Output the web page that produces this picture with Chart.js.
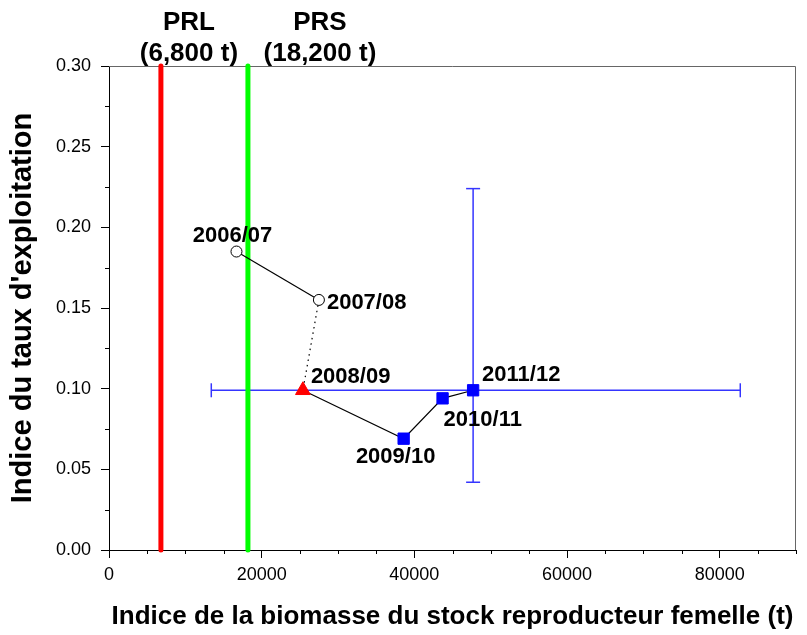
<!DOCTYPE html>
<html>
<head>
<meta charset="utf-8">
<script src="https://cdn.jsdelivr.net/npm/chart.js@4.4.1/dist/chart.umd.min.js"></script>
<style>
  html, body { margin: 0; padding: 0; background: #fff; }
  canvas { display: block; }
</style>
</head>
<body>
<canvas id="chart" width="807" height="635"></canvas>
<script>
// donnees
const saisons = ['2006/07', '2007/08', '2008/09', '2009/10', '2010/11', '2011/12'];
const biomasse = [16700, 27500, 25400, 38600, 43700, 47700];
const exploitation = [0.185, 0.155, 0.099, 0.069, 0.094, 0.099];

// intervalle de confiance de la derniere saison
const biomasseIntervalle = [13400, 82700];
const exploitationIntervalle = [0.042, 0.224];

// points de reference
const pointsRef = ['PRL', 'PRS'];
const pointsRefValeurs = [6800, 18200];
const pointsRefTextes = ['(6,800 t)', '(18,200 t)'];

const xTicks = [0, 20000, 40000, 60000, 80000];
const yTicks = [0, 0.05, 0.10, 0.15, 0.20, 0.25, 0.30];

const POLICE = '"Liberation Sans", Arial, sans-serif';
const bleu = '#3535ff';

// position des etiquettes par rapport au point
const etiquettesPos = [
  { dx: -4, dy: -16, align: 'center' },
  { dx: 8, dy: 3, align: 'left' },
  { dx: 8, dy: -13, align: 'left' },
  { dx: -8, dy: 18, align: 'center' },
  { dx: 1, dy: 22, align: 'left' },
  { dx: 9, dy: -15, align: 'left' }
];
const refDecalage = [28, 72];

const decorations = {
  id: 'decorations',
  beforeDatasetsDraw(chart) {
    const { ctx, chartArea: a, scales: { x, y } } = chart;
    ctx.save();
    // cadre gris haut et droite
    ctx.strokeStyle = '#666';
    ctx.lineWidth = 1;
    ctx.beginPath();
    ctx.moveTo(a.left, a.top + 0.5);
    ctx.lineTo(a.right - 0.5, a.top + 0.5);
    ctx.lineTo(a.right - 0.5, a.bottom);
    ctx.stroke();
    // petites graduations
    ctx.strokeStyle = '#000';
    ctx.beginPath();
    for (let v = 5000; v <= 90000; v += 5000) {
      if (v % 20000 === 0) continue;
      const px = Math.round(x.getPixelForValue(v)) + 0.5;
      ctx.moveTo(px, a.bottom);
      ctx.lineTo(px, a.bottom + 4);
    }
    for (let v = 0.025; v < 0.3; v += 0.05) {
      const py = Math.round(y.getPixelForValue(v)) + 0.5;
      ctx.moveTo(a.left, py);
      ctx.lineTo(a.left - 4, py);
    }
    ctx.stroke();
    ctx.restore();
  },
  afterDatasetsDraw(chart) {
    const { ctx, scales: { x } } = chart;
    const meta = chart.getDatasetMeta(0);
    ctx.save();
    ctx.fillStyle = '#000';
    ctx.textBaseline = 'middle';
    ctx.font = 'bold 22px ' + POLICE;
    saisons.forEach((s, i) => {
      const p = meta.data[i];
      const pos = etiquettesPos[i];
      ctx.textAlign = pos.align;
      ctx.fillText(s, p.x + pos.dx, p.y + pos.dy);
    });
    ctx.font = 'bold 26px ' + POLICE;
    ctx.textAlign = 'center';
    pointsRef.forEach((nom, i) => {
      const px = x.getPixelForValue(pointsRefValeurs[i]) + refDecalage[i];
      ctx.fillText(nom, px, 23);
      ctx.fillText(pointsRefTextes[i], px, 54);
    });
    ctx.restore();
  }
};

const ctx = document.getElementById('chart').getContext('2d');
new Chart(ctx, {
  type: 'scatter',
  data: {
    datasets: [
      {
        label: 'Saisons',
        data: saisons.map((s, i) => ({ x: biomasse[i], y: exploitation[i] })),
        showLine: true,
        borderColor: '#000',
        borderWidth: 1.2,
        segment: {
          borderDash: c => c.p0DataIndex === 1 ? [1.5, 4] : undefined
        },
        pointStyle: ['circle', 'circle', 'triangle', 'rect', 'rect', 'rect'],
        pointRadius: [5.5, 5.5, 8.5, 8, 8, 8],
        pointBackgroundColor: ['#fff', '#fff', '#ff0000', '#0000ff', '#0000ff', '#0000ff'],
        pointBorderColor: ['#000', '#000', '#ff0000', '#0000ff', '#0000ff', '#0000ff'],
        pointBorderWidth: 1,
        clip: false,
        order: 0
      },
      {
        label: 'PRL',
        data: [{ x: pointsRefValeurs[0], y: 0 }, { x: pointsRefValeurs[0], y: 0.3 }],
        showLine: true,
        borderColor: '#ff0000',
        borderWidth: 5,
        borderCapStyle: 'round',
        pointRadius: 0,
        clip: false,
        order: 1
      },
      {
        label: 'PRS',
        data: [{ x: pointsRefValeurs[1], y: 0 }, { x: pointsRefValeurs[1], y: 0.3 }],
        showLine: true,
        borderColor: '#00ff00',
        borderWidth: 5,
        borderCapStyle: 'round',
        pointRadius: 0,
        clip: false,
        order: 1
      },
      {
        label: 'IC biomasse',
        data: biomasseIntervalle.map(v => ({ x: v, y: exploitation[5] })),
        showLine: true,
        borderColor: bleu,
        borderWidth: 1.5,
        pointStyle: 'line',
        pointRotation: 90,
        pointRadius: 7,
        pointBorderColor: bleu,
        pointBorderWidth: 1.5,
        order: 2
      },
      {
        label: 'IC exploitation',
        data: exploitationIntervalle.map(v => ({ x: biomasse[5], y: v })),
        showLine: true,
        borderColor: bleu,
        borderWidth: 1.5,
        pointStyle: 'line',
        pointRotation: 0,
        pointRadius: 7,
        pointBorderColor: bleu,
        pointBorderWidth: 1.5,
        order: 2
      }
    ]
  },
  options: {
    responsive: false,
    animation: false,
    events: [],
    layout: { padding: { top: 66, right: 11, left: 0, bottom: 0 } },
    plugins: {
      legend: { display: false },
      tooltip: { enabled: false }
    },
    scales: {
      x: {
        type: 'linear',
        position: 'bottom',
        min: 0,
        max: 90000,
        afterBuildTicks: axis => { axis.ticks = xTicks.map(v => ({ value: v })); },
        afterFit: axis => { axis.height = 85; },
        grid: { drawOnChartArea: false, drawTicks: true, tickLength: 8, color: '#000' },
        border: { color: '#000', width: 1 },
        ticks: {
          color: '#000',
          font: { family: POLICE, size: 18 },
          padding: 6,
          maxRotation: 0,
          callback: v => String(v)
        },
        title: {
          display: true,
          text: 'Indice de la biomasse du stock reproducteur femelle (t)',
          color: '#000',
          font: { family: POLICE, size: 26, weight: 'bold' },
          padding: { top: 0, bottom: 3 }
        }
      },
      y: {
        type: 'linear',
        min: 0,
        max: 0.3,
        afterBuildTicks: axis => { axis.ticks = yTicks.map(v => ({ value: v })); },
        afterFit: axis => { axis.width = 109; },
        grid: { drawOnChartArea: false, drawTicks: true, tickLength: 8, color: '#000' },
        border: { color: '#000', width: 1 },
        ticks: {
          color: '#000',
          font: { family: POLICE, size: 18 },
          padding: 10,
          callback: v => v.toFixed(2)
        },
        title: {
          display: true,
          text: "Indice du taux d'exploitation",
          color: '#000',
          font: { family: POLICE, size: 29, weight: 'bold' },
          padding: { top: 6, bottom: 0 }
        }
      }
    }
  },
  plugins: [decorations]
});
</script>
</body>
</html>
